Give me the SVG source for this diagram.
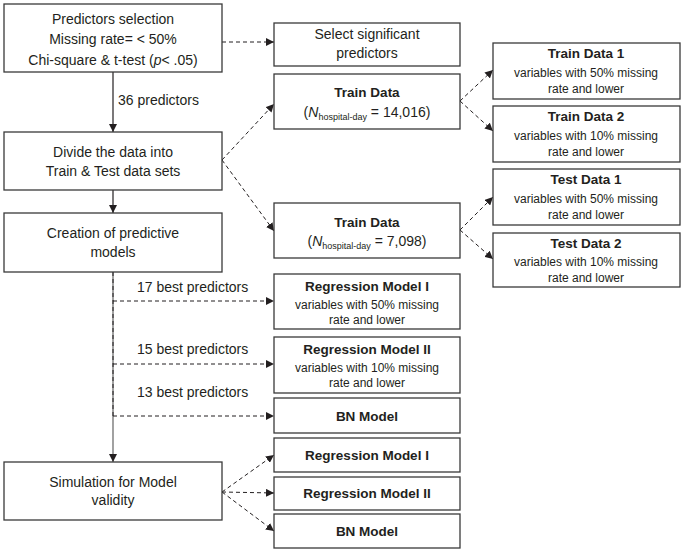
<svg xmlns="http://www.w3.org/2000/svg" width="684" height="552" viewBox="0 0 684 552">
<defs>
<marker id="ah" viewBox="0 0 10 10" refX="10" refY="5" markerWidth="8" markerHeight="8" markerUnits="userSpaceOnUse" orient="auto">
<path d="M0,0 L10,5 L0,10 Z" fill="#231f20"/>
</marker>
<style>
.box{fill:#fff;stroke:#3a3a3a;stroke-width:1.3}
.t{font-family:"Liberation Sans",Arial,sans-serif;font-size:14px;fill:#231f20;text-anchor:middle}
.b{font-family:"Liberation Sans",Arial,sans-serif;font-size:13.5px;font-weight:bold;fill:#231f20;text-anchor:middle}
.s{font-family:"Liberation Sans",Arial,sans-serif;font-size:12px;fill:#231f20;text-anchor:middle}
.l{font-family:"Liberation Sans",Arial,sans-serif;font-size:14px;fill:#231f20}
.solid{stroke:#231f20;stroke-width:1.2;fill:none}
.dash{stroke:#231f20;stroke-width:1;fill:none;stroke-dasharray:4 3}
</style>
</defs>
<g id="connectors">
<line class="solid" x1="113" y1="72" x2="113" y2="132" marker-end="url(#ah)"/>
<line class="solid" x1="113" y1="190" x2="113" y2="213" marker-end="url(#ah)"/>
<line x1="113" y1="272" x2="113" y2="462" stroke="#555" stroke-width="1.1" marker-end="url(#ah)"/>
<line class="dash" x1="113" y1="272" x2="113" y2="416"/>
<line class="dash" x1="222" y1="42" x2="274" y2="42" marker-end="url(#ah)"/>
<line class="dash" x1="222" y1="160" x2="274" y2="104" marker-end="url(#ah)"/>
<line class="dash" x1="222" y1="160" x2="274" y2="231" marker-end="url(#ah)"/>
<line class="dash" x1="460" y1="101" x2="493" y2="70" marker-end="url(#ah)"/>
<line class="dash" x1="460" y1="101" x2="493" y2="131" marker-end="url(#ah)"/>
<line class="dash" x1="460" y1="230" x2="493" y2="197" marker-end="url(#ah)"/>
<line class="dash" x1="460" y1="230" x2="493" y2="259" marker-end="url(#ah)"/>
<line class="dash" x1="113" y1="301" x2="274" y2="301" marker-end="url(#ah)"/>
<line class="dash" x1="113" y1="364" x2="274" y2="364" marker-end="url(#ah)"/>
<line class="dash" x1="113" y1="416" x2="274" y2="416" marker-end="url(#ah)"/>
<line class="dash" x1="222" y1="492" x2="274" y2="455" marker-end="url(#ah)"/>
<line class="dash" x1="222" y1="492" x2="274" y2="493" marker-end="url(#ah)"/>
<line class="dash" x1="222" y1="492" x2="274" y2="531" marker-end="url(#ah)"/>
<text class="l" x="118" y="105">36 predictors</text>
<text class="l" x="137" y="292">17 best predictors</text>
<text class="l" x="137" y="354">15 best predictors</text>
<text class="l" x="137" y="397">13 best predictors</text>
</g>
<g id="n-predictors-selection">
<rect class="box" x="4" y="4" width="218" height="68"/>
<text class="t" x="113" y="24">Predictors selection</text>
<text class="t" x="113" y="44">Missing rate= &lt; 50%</text>
<text class="t" x="113" y="65">Chi-square &amp; t-test (<tspan font-style="italic">p</tspan>&lt; .05)</text>
</g>
<g id="n-divide">
<rect class="box" x="4" y="132" width="218" height="58"/>
<text class="t" x="113" y="157">Divide the data into</text>
<text class="t" x="113" y="176">Train &amp; Test data sets</text>
</g>
<g id="n-creation">
<rect class="box" x="4" y="213" width="218" height="59"/>
<text class="t" x="113" y="238">Creation of predictive</text>
<text class="t" x="113" y="257">models</text>
</g>
<g id="n-simulation">
<rect class="box" x="4" y="462" width="218" height="58"/>
<text class="t" x="113" y="487">Simulation for Model</text>
<text class="t" x="113" y="505">validity</text>
</g>
<g id="n-select">
<rect class="box" x="274" y="23" width="186" height="43"/>
<text class="t" x="367" y="39">Select significant</text>
<text class="t" x="367" y="58">predictors</text>
</g>
<g id="n-train-data">
<rect class="box" x="274" y="74" width="186" height="55"/>
<text class="b" x="367" y="97">Train Data</text>
<text class="t" x="367" y="117">(<tspan font-style="italic">N</tspan><tspan font-size="9" dy="3">hospital-day</tspan><tspan dy="-3"> = 14,016)</tspan></text>
</g>
<g id="n-test-data">
<rect class="box" x="274" y="203" width="186" height="55"/>
<text class="b" x="367" y="227">Train Data</text>
<text class="t" x="367" y="246">(<tspan font-style="italic">N</tspan><tspan font-size="9" dy="3">hospital-day</tspan><tspan dy="-3"> = 7,098)</tspan></text>
</g>
<g id="n-train1">
<rect class="box" x="493" y="43" width="187" height="56"/>
<text class="b" x="586" y="58">Train Data 1</text>
<text class="s" x="586" y="77">variables with 50% missing</text>
<text class="s" x="586" y="93">rate and lower</text>
</g>
<g id="n-train2">
<rect class="box" x="493" y="106" width="187" height="56"/>
<text class="b" x="586" y="121">Train Data 2</text>
<text class="s" x="586" y="140">variables with 10% missing</text>
<text class="s" x="586" y="156">rate and lower</text>
</g>
<g id="n-test1">
<rect class="box" x="493" y="169" width="187" height="56"/>
<text class="b" x="586" y="184">Test Data 1</text>
<text class="s" x="586" y="203">variables with 50% missing</text>
<text class="s" x="586" y="219">rate and lower</text>
</g>
<g id="n-test2">
<rect class="box" x="493" y="233" width="187" height="54"/>
<text class="b" x="586" y="248">Test Data 2</text>
<text class="s" x="586" y="266">variables with 10% missing</text>
<text class="s" x="586" y="282">rate and lower</text>
</g>
<g id="n-reg1">
<rect class="box" x="274" y="274" width="186" height="55"/>
<text class="b" x="367" y="291">Regression Model I</text>
<text class="s" x="367" y="309">variables with 50% missing</text>
<text class="s" x="367" y="324">rate and lower</text>
</g>
<g id="n-reg2">
<rect class="box" x="274" y="337" width="186" height="56"/>
<text class="b" x="367" y="354">Regression Model II</text>
<text class="s" x="367" y="372">variables with 10% missing</text>
<text class="s" x="367" y="387">rate and lower</text>
</g>
<g id="n-bn">
<rect class="box" x="274" y="398" width="186" height="35"/>
<text class="b" x="367" y="421">BN Model</text>
</g>
<g id="n-sim-reg1">
<rect class="box" x="274" y="438" width="186" height="34"/>
<text class="b" x="367" y="460">Regression Model I</text>
</g>
<g id="n-sim-reg2">
<rect class="box" x="274" y="477" width="186" height="33"/>
<text class="b" x="367" y="498">Regression Model II</text>
</g>
<g id="n-sim-bn">
<rect class="box" x="274" y="514" width="186" height="34"/>
<text class="b" x="367" y="536">BN Model</text>
</g>
</svg>
